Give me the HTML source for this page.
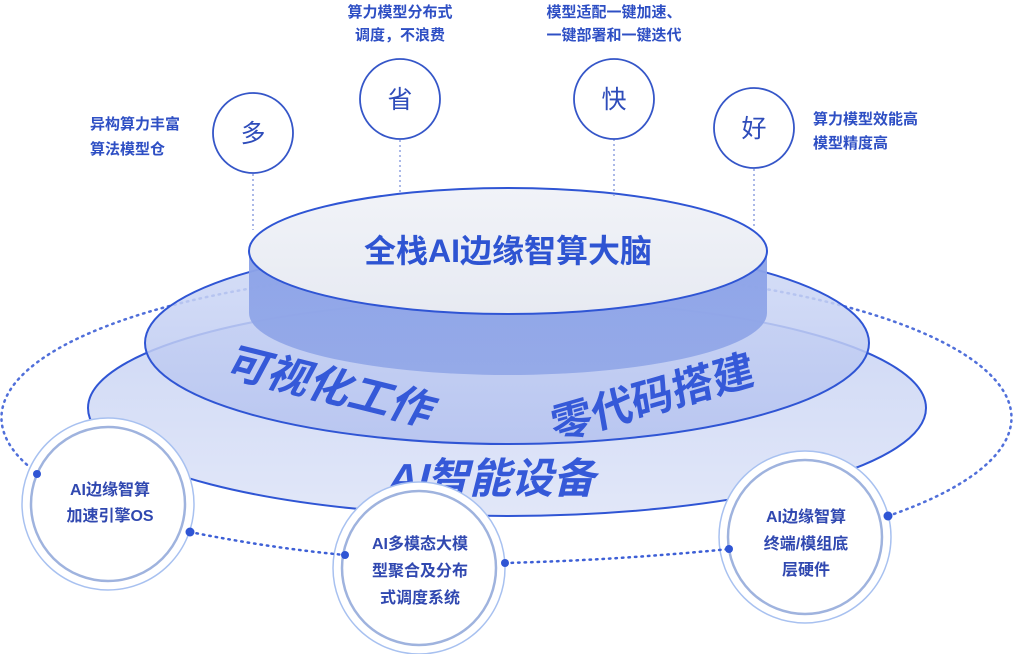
<!DOCTYPE html>
<html><head><meta charset="utf-8"><style>
html,body{margin:0;padding:0;background:#fff;}
svg{display:block;}
text{font-family:"Liberation Sans","Noto Sans CJK SC",sans-serif;font-weight:bold;}
</style></head><body>
<svg width="1015" height="654" viewBox="0 0 1015 654" xmlns="http://www.w3.org/2000/svg">
<defs>
<linearGradient id="bot" x1="0" y1="0" x2="0" y2="1">
<stop offset="0" stop-color="#c9d4f4"/><stop offset="1" stop-color="#dfe5f8"/></linearGradient>
<linearGradient id="mid" x1="0" y1="0" x2="0" y2="1">
<stop offset="0" stop-color="#d0daf6"/><stop offset="1" stop-color="#b3c1ef"/></linearGradient>
<linearGradient id="cyl" x1="0" y1="0" x2="0" y2="1">
<stop offset="0" stop-color="#8ba2e8"/><stop offset="1" stop-color="#93a8e8"/></linearGradient>
<linearGradient id="top" x1="0" y1="0" x2="0" y2="1">
<stop offset="0" stop-color="#f1f3f8"/><stop offset="1" stop-color="#e7eaf2"/></linearGradient>
</defs>
<path d="M37 473 A505 150 0 1 1 888 516" fill="none" stroke="#3d5fd6" stroke-width="2.5" stroke-dasharray="1.5 5" stroke-linecap="round" opacity="0.9"/>
<ellipse cx="507" cy="408" rx="419" ry="108" fill="url(#bot)" fill-opacity="0.92" stroke="#2f55d4" stroke-width="2"/>
<ellipse cx="507" cy="343" rx="362" ry="101" fill="url(#mid)" stroke="#2f55d4" stroke-width="2" fill-opacity="0.85"/>
<path d="M249 251 L249 313 A259 62 0 0 0 767 313 L767 251 Z" fill="url(#cyl)" fill-opacity="0.95"/>
<ellipse cx="508" cy="251" rx="259" ry="63" fill="url(#top)" stroke="#2f55d4" stroke-width="2"/>
<text x="508" y="262" font-size="32" fill="#2e54d2" text-anchor="middle">全栈AI边缘智算大脑</text>
<text font-size="42" fill="#3559d8" text-anchor="middle" transform="translate(325 400) rotate(14) skewX(-14)">可视化工作</text>
<text font-size="42" fill="#3559d8" text-anchor="middle" transform="translate(655 412) rotate(-16) skewX(-6)">零代码搭建</text>
<text font-size="42" fill="#3559d8" text-anchor="middle" transform="translate(490 493) skewX(-14)">AI智能设备</text>
<g stroke="#8fa2e0" stroke-width="1.5" stroke-dasharray="2 3">
<line x1="253" y1="174" x2="253" y2="230"/>
<line x1="400" y1="140" x2="400" y2="193"/>
<line x1="614" y1="139" x2="614" y2="198"/>
<line x1="754" y1="169" x2="754" y2="228"/>
</g>
<g fill="#fff" stroke="#3556c8" stroke-width="1.8">
<circle cx="253" cy="133" r="40"/>
<circle cx="400" cy="99" r="40"/>
<circle cx="614" cy="99" r="40"/>
<circle cx="754" cy="128" r="40"/>
</g>
<g font-size="25" fill="#2e4cba" text-anchor="middle" style="font-weight:normal">
<text x="253" y="142" style="font-weight:normal">多</text>
<text x="400" y="108" style="font-weight:normal">省</text>
<text x="614" y="108" style="font-weight:normal">快</text>
<text x="754" y="137" style="font-weight:normal">好</text>
</g>
<g font-size="15" fill="#2e4fc4">
<text x="90" y="129">异构算力丰富</text>
<text x="90" y="154">算法模型仓</text>
<text x="400" y="17" text-anchor="middle">算力模型分布式</text>
<text x="400" y="40" text-anchor="middle">调度，不浪费</text>
<text x="614" y="17" text-anchor="middle">模型适配一键加速、</text>
<text x="614" y="40" text-anchor="middle">一键部署和一键迭代</text>
<text x="813" y="124">算力模型效能高</text>
<text x="813" y="148">模型精度高</text>
</g>
<g fill="#fff">
<circle cx="108" cy="504" r="86" stroke="#a8c1f0" stroke-width="1.5"/>
<circle cx="108" cy="504" r="77" stroke="#9fb3de" stroke-width="2.5"/>
<circle cx="419" cy="568" r="86" stroke="#a8c1f0" stroke-width="1.5"/>
<circle cx="419" cy="568" r="77" stroke="#9fb3de" stroke-width="2.5"/>
<circle cx="805" cy="537" r="86" stroke="#a8c1f0" stroke-width="1.5"/>
<circle cx="805" cy="537" r="77" stroke="#9fb3de" stroke-width="2.5"/>
</g>
<g stroke="#3d5fd6" stroke-width="2.5" stroke-dasharray="1.5 5" stroke-linecap="round" fill="none">
<path d="M190 532 Q270 548 345 555"/>
<path d="M505 563 Q620 560 729 549"/>
</g>
<g fill="#2f55d4">
<circle cx="37" cy="474" r="4"/><circle cx="190" cy="532" r="4.5"/>
<circle cx="345" cy="555" r="4"/><circle cx="505" cy="563" r="4"/>
<circle cx="729" cy="549" r="4"/><circle cx="888" cy="516" r="4.5"/>
</g>
<g font-size="16" fill="#3048b0" text-anchor="middle">
<text x="110" y="495">AI边缘智算</text>
<text x="110" y="521">加速引擎OS</text>
<text x="420" y="549">AI多模态大模</text>
<text x="420" y="576">型聚合及分布</text>
<text x="420" y="603">式调度系统</text>
<text x="806" y="522">AI边缘智算</text>
<text x="806" y="549">终端/模组底</text>
<text x="806" y="575">层硬件</text>
</g>
</svg>
</body></html>
